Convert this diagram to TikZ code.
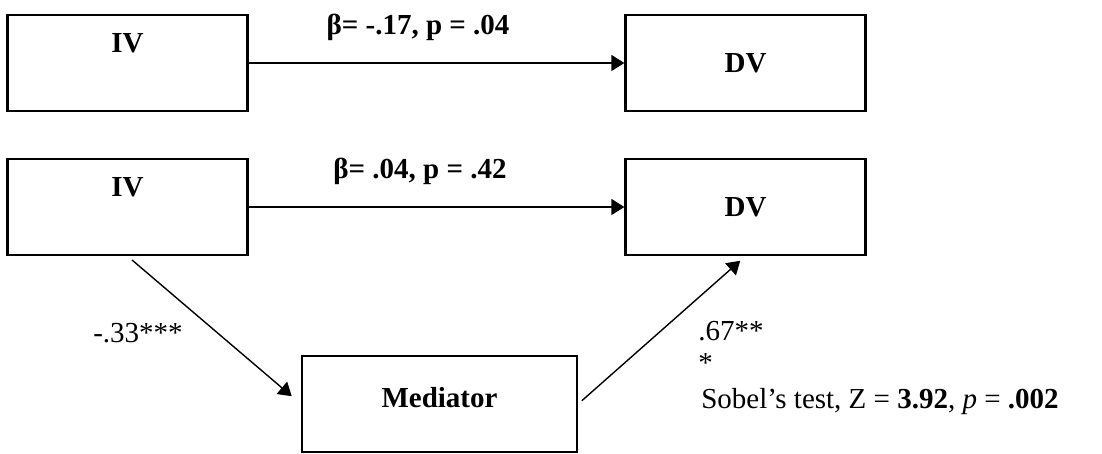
\documentclass[tikz,border=0pt]{standalone}
\usepackage{fontspec}
\setmainfont{Liberation Serif}
\usetikzlibrary{arrows.meta}

\begin{document}
\begin{tikzpicture}[x=0.02cm, y=-0.02cm, font=\fontsize{16.5}{18}\selectfont,
  varbox/.style={draw, line width=1.3pt, minimum width=\boxwidth, minimum height=\boxheight, font=\fontsize{16.5}{18}\selectfont\bfseries},
  link/.style={-{Triangle[length=0.26cm, width=0.32cm]}, line width=0.8pt},
  lbl/.style={inner sep=0pt},
  coef/.style={lbl, font=\fontsize{16.5}{18}\selectfont\bfseries}]

\useasboundingbox (0,0) rectangle (1102,453);

% Uniform box size
\def\boxwidth{4.8cm}
\def\boxheight{1.92cm}

% Total effect (top row)
\node[varbox, text depth=0.8cm] (iv1) at (127.5,63) {IV};
\node[varbox] (dv1) at (745.5,63) {DV};

% Mediation model (bottom rows)
\node[varbox, text depth=0.8cm] (iv2) at (127.5,207) {IV};
\node[varbox] (dv2) at (745.5,207) {DV};
\node[varbox, minimum width=5.5cm, text depth=0.28cm] (med) at (439.5,404) {Mediator};

% Paths
\draw[link] (iv1.east) -- (dv1.west);
\draw[link] (iv2.east) -- (dv2.west);
\draw[link, shorten <=0.12cm, shorten >=0.24cm] (iv2.south) -- (med.west);
\draw[link, shorten <=0.1cm, shorten >=0.14cm] (med.east) -- (dv2.south);

% Coefficients
\node[coef] (ctot) at (418,27) {β= -.17, p = .04};
\node[coef] (cdir) at (420,171) {β= .04, p = .42};
\node[lbl] (cpa) at (138,333) {-.33***};
\node[lbl, anchor=north west, align=left] (cpb) at (698,321) {.67**\\*};
\node[lbl, anchor=base west] (sobel) at (701,408) {Sobel’s test, Z = \textbf{3.92}, \textit{p} = \textbf{.002}};

\end{tikzpicture}
\end{document}
